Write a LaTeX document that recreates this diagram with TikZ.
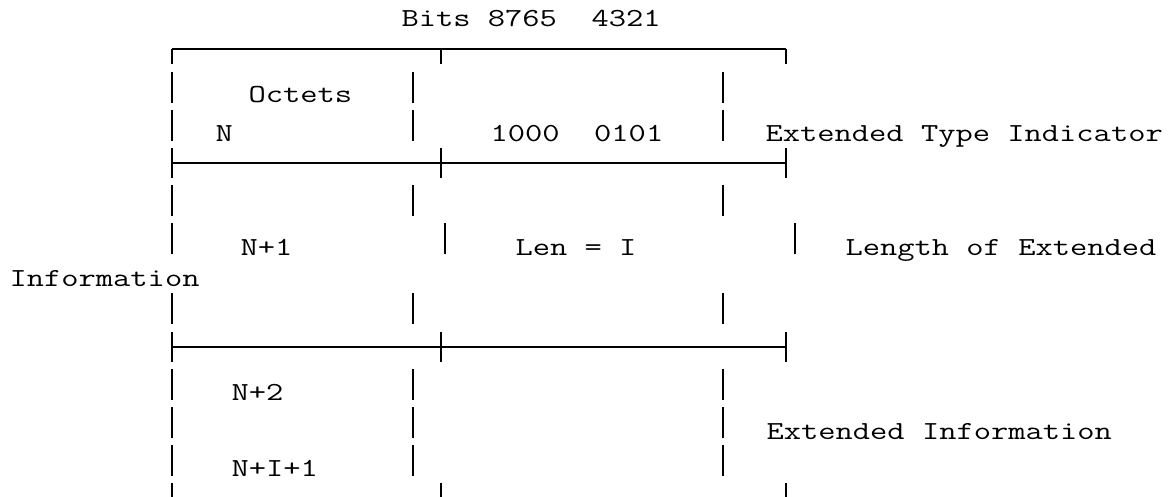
\documentclass[tikz,border=0pt]{standalone}
\usepackage{graphicx}
\newcommand{\octtxt}[1]{\scalebox{1.29}[1]{\fontsize{26}{30}\selectfont\ttfamily #1}}

\begin{document}
\begin{tikzpicture}[x=1pt,y=-1pt,line width=1.1pt,
    lbl/.style={anchor=base west,inner sep=0pt}]
  \useasboundingbox (0,0) rectangle (1171,497);
  % rules across the table
  \foreach \y in {49,163,347} \draw (172,\y) -- (786,\y);
  % corner and tee ticks on outer and middle columns
  \foreach \a/\b in {49/64,148/178,332/362,483/497}
    \foreach \x in {172,441,786} \draw (\x,\a) -- (\x,\b);
  % plain bars
  \foreach \a/\b in {72/103,110/141,185/216,293/324,369/400,407/438,445/476}
    \foreach \x in {172,413,723} \draw (\x,\a) -- (\x,\b);
  \foreach \x in {172,445,795} \draw (\x,223) -- (\x,254);
  % labels
  \node[lbl] (bits) at (401,27) {\octtxt{Bits 8765\ \ 4321}};
  \node[lbl] (octets) at (248,103) {\octtxt{Octets}};
  \node[lbl] (n) at (215,142) {\octtxt{N}};
  \node[lbl] (code) at (490,142) {\octtxt{1000\ \ 0101}};
  \node[lbl] (eti) at (765,142) {\octtxt{Extended Type Indicator}};
  \node[lbl] (n1) at (240,256) {\octtxt{N+1}};
  \node[lbl] (len) at (515,256) {\octtxt{Len = I}};
  \node[lbl] (lenext) at (845,256) {\octtxt{Length of Extended}};
  \node[lbl] (info) at (9,287) {\octtxt{Information}};
  \node[lbl] (n2) at (231,400) {\octtxt{N+2}};
  \node[lbl] (extinfo) at (766,439) {\octtxt{Extended Information}};
  \node[lbl] (nI1) at (231,476) {\octtxt{N+I+1}};
\end{tikzpicture}
\end{document}
